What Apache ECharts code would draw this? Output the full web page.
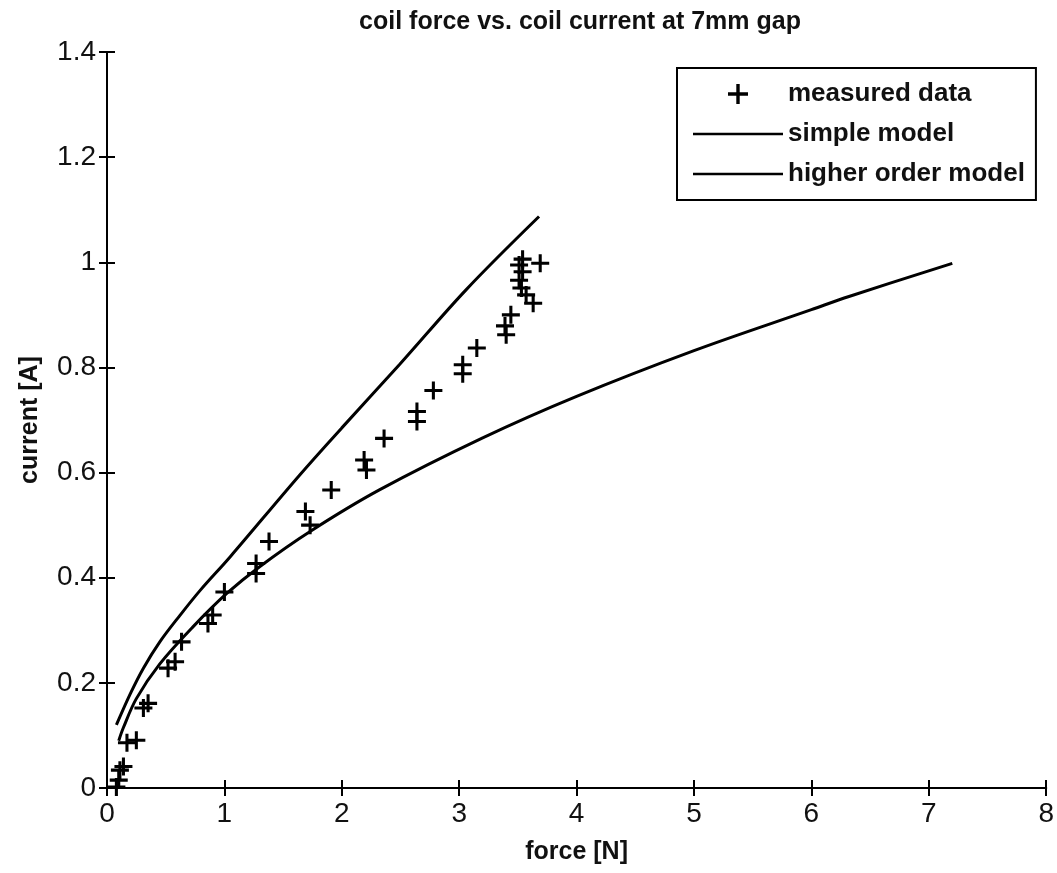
<!DOCTYPE html>
<html lang="en">
<head>
    <meta charset="UTF-8">
    <title>coil force vs. coil current</title>
    <script src="https://cdn.jsdelivr.net/npm/echarts@6/dist/echarts.min.js"></script>
    <style>
        html, body { margin: 0; padding: 0; background: #fff; }
        #main { width: 1057px; height: 873px; }
    </style>
</head>
<body>
    <div id="main"></div>
    <script type="text/javascript">
        // measured points, force [N] / current [A]
        const measuredForce = [0.08, 0.10, 0.11, 0.14, 0.17, 0.25, 0.31, 0.35, 0.52, 0.58, 0.635, 0.86, 0.90, 1.00,
            1.27, 1.27, 1.38, 1.69, 1.73, 1.91, 2.19, 2.21, 2.36, 2.64, 2.64, 2.78, 3.03, 3.03, 3.15, 3.40, 3.39,
            3.44, 3.63, 3.57, 3.53, 3.51, 3.54, 3.51, 3.69, 3.54]
        const measuredCurrent = [0.002, 0.015, 0.034, 0.041, 0.086, 0.091, 0.152, 0.161, 0.228, 0.240, 0.278, 0.313,
            0.329, 0.373, 0.408, 0.427, 0.469, 0.526, 0.500, 0.567, 0.624, 0.605, 0.665, 0.716, 0.697, 0.756, 0.788,
            0.805, 0.837, 0.862, 0.879, 0.900, 0.922, 0.938, 0.951, 0.966, 0.982, 0.995, 0.998, 1.006]

        const simpleForce = [0.08, 0.2, 0.31, 0.45, 0.62, 0.79, 1.05, 1.64, 2.0, 2.49, 3.06, 3.68]
        const simpleCurrent = [0.12, 0.18, 0.228, 0.278, 0.328, 0.375, 0.44, 0.595, 0.685, 0.805, 0.948, 1.087]

        const higherForce = [0.1, 0.14, 0.25, 0.45, 0.73, 1.02, 1.3, 1.73, 2.32, 3.2, 4, 5, 6, 6.32, 7.2]
        const higherCurrent = [0.09, 0.115, 0.17, 0.236, 0.306, 0.37, 0.421, 0.488, 0.567, 0.666, 0.745, 0.832,
            0.91, 0.935, 0.998]

        const pairs = (xs, ys) => xs.map((x, i) => [x, ys[i]])

        const plus = 'path://M-0.17,-1 L0.17,-1 L0.17,-0.17 L1,-0.17 L1,0.17 L0.17,0.17 L0.17,1 L-0.17,1 ' +
            'L-0.17,0.17 L-1,0.17 L-1,-0.17 L-0.17,-0.17 Z'
        const bar = 'path://M0,0 L90,0 L90,2.5 L0,2.5 Z'

        const font = 'Liberation Sans, Arial, sans-serif'
        const axisLine = { show: true, lineStyle: { color: '#000', width: 2 } }
        const axisTick = { show: true, inside: true, length: 8, lineStyle: { color: '#000', width: 2 } }

        let chart = echarts.init(document.getElementById('main'))
        chart.setOption({
            backgroundColor: '#fff',
            animation: false,
            title: {
                text: 'coil force vs. coil current at 7mm gap',
                left: 580,
                top: 10,
                padding: 0,
                textAlign: 'center',
                textStyle: { fontFamily: font, fontSize: 25, fontWeight: 'bold', color: '#111' }
            },
            grid: { left: 107, right: 9, top: 52, bottom: 85 },
            legend: {
                orient: 'vertical',
                left: 677,
                top: 68,
                padding: [13, 11, 13, 16],
                itemWidth: 90,
                itemHeight: 20,
                itemGap: 14,
                backgroundColor: '#fff',
                borderColor: '#000',
                borderWidth: 2,
                textStyle: { fontFamily: font, fontSize: 26, fontWeight: 'bold', color: '#111' },
                data: [
                    { name: 'measured data', icon: plus },
                    { name: 'simple model', icon: bar },
                    { name: 'higher order model', icon: bar }
                ]
            },
            xAxis: [{
                type: 'value', min: 0, max: 8, interval: 1,
                name: 'force [N]', nameLocation: 'middle', nameGap: 52,
                nameTextStyle: { fontFamily: font, fontSize: 25, fontWeight: 'bold', color: '#111' },
                axisLine: axisLine, axisTick: axisTick, splitLine: { show: false },
                axisLabel: { margin: 12, fontFamily: font, fontSize: 28, color: '#111' }
            }, {
                type: 'value', position: 'top', min: 0, max: 8, interval: 1,
                axisLine: axisLine, axisTick: axisTick, splitLine: { show: false },
                axisLabel: { show: false }
            }],
            yAxis: [{
                type: 'value', min: 0, max: 1.4, interval: 0.2,
                name: 'current [A]', nameLocation: 'middle', nameGap: 64,
                nameTextStyle: { fontFamily: font, fontSize: 25, fontWeight: 'bold', color: '#111' },
                axisLine: axisLine, axisTick: axisTick, splitLine: { show: false },
                axisLabel: { margin: 11, fontFamily: font, fontSize: 28, color: '#111' }
            }, {
                type: 'value', position: 'right', min: 0, max: 1.4, interval: 0.2,
                axisLine: axisLine, axisTick: axisTick, splitLine: { show: false },
                axisLabel: { show: false }
            }],
            series: [{
                name: 'measured data',
                type: 'scatter',
                symbol: plus,
                symbolSize: 18,
                itemStyle: { color: '#000', opacity: 1 },
                data: pairs(measuredForce, measuredCurrent),
                z: 3
            }, {
                name: 'simple model',
                type: 'line',
                smooth: 0.35,
                showSymbol: false,
                symbol: 'none',
                lineStyle: { color: '#000', width: 3 },
                itemStyle: { color: '#000' },
                data: pairs(simpleForce, simpleCurrent)
            }, {
                name: 'higher order model',
                type: 'line',
                smooth: 0.35,
                showSymbol: false,
                symbol: 'none',
                lineStyle: { color: '#000', width: 3 },
                itemStyle: { color: '#000' },
                data: pairs(higherForce, higherCurrent)
            }]
        })
    </script>
</body>
</html>
